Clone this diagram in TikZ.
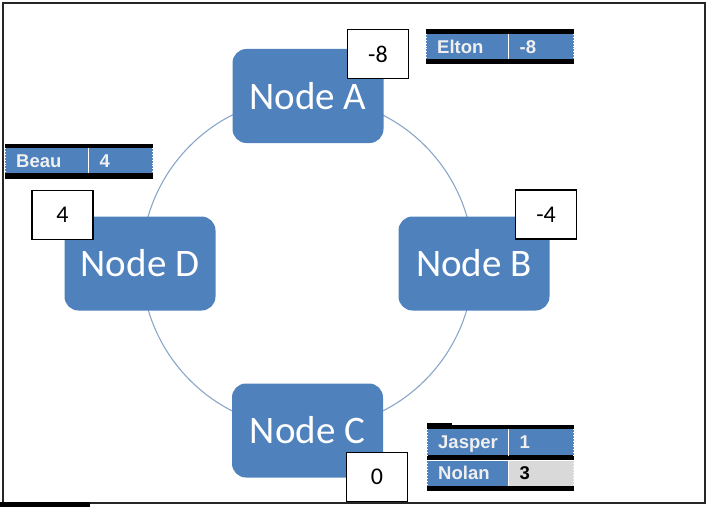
\documentclass[tikz,border=0pt]{standalone}
\usepackage{fontspec}
\setmainfont{Carlito}
\newfontfamily\tabfont{Liberation Sans}
\definecolor{nodeblue}{HTML}{4F81BD}
\definecolor{ringblue}{HTML}{8AA6C8}
\definecolor{cellgray}{HTML}{D9D9D9}
\definecolor{framegray}{HTML}{262626}
\begin{document}
\begin{tikzpicture}[x=1pt,y=-1pt,
  netnode/.style={fill=nodeblue, rounded corners=14pt, minimum width=151pt,
    minimum height=94pt, inner sep=0pt, text=white,
    font=\fontsize{39}{42}\selectfont},
  valbox/.style={draw=black, line width=1.4pt, fill=white, minimum width=61pt,
    minimum height=49pt, inner sep=0pt, font=\fontsize{24}{26}\selectfont},
  cell/.style={fill=nodeblue, text=white!94!black, inner ysep=0pt,
    inner xsep=11pt, minimum height=#1, anchor=north west, align=left,
    text height=13pt, text depth=0pt,
    font=\tabfont\bfseries\fontsize{18.5}{20}\selectfont},
  namecell/.style={cell=#1, text width=60pt},
  valuecell/.style={cell=#1, text width=43pt},
  rulebar/.style={fill=black},
  cellsep/.style={draw=white, dotted, line width=0.9pt}
]
\useasboundingbox (0,0) rectangle (709,508);

% outer frame
\draw[framegray, line width=2pt] (3,3) rectangle (705,503);
\fill[black] (0,502) rectangle (90,506.5);

% ring joining the four nodes
\coordinate (ring) at (307.5,263);
\draw[ringblue, line width=1.1pt] (ring) circle[radius=166];

% the four nodes
\node[netnode] (A) at (308,96) {Node A};
\node[netnode] (B) at (474,263.5) {Node B};
\node[netnode] (C) at (307.5,430.5) {Node C};
\node[netnode] (D) at (140,263.5) {Node D};

% values attached to the nodes
\node[valbox] (vA) at (378,54) {-8};
\node[valbox] (vB) at (546,214.5) {-4};
\node[valbox] (vC) at (377,477) {0};
\node[valbox] (vD) at (62.5,215) {4};

% table: Elton (yshift acts on the page, so positive is upwards)
\node[namecell=25pt] (eltonN) at (426,34) {Elton};
\node[valuecell=25pt] (eltonV) at (eltonN.north east) {-8};
\fill[rulebar] (eltonN.north west) rectangle ([yshift=5pt]eltonV.north east);
\fill[rulebar] (eltonN.south west) rectangle ([yshift=-5pt]eltonV.south east);
\draw[cellsep] (eltonN.north east) -- (eltonN.south east);
\draw[cellsep] (eltonN.north west) -- (eltonN.south west);
\draw[cellsep] (eltonV.north east) -- (eltonV.south east);

% table: Beau
\node[namecell=25pt, text width=61pt] (beauN) at (5,148) {Beau};
\node[valuecell=25pt, text width=42pt] (beauV) at (beauN.north east) {4};
\fill[rulebar] (beauN.north west) rectangle ([yshift=4.5pt]beauV.north east);
\fill[rulebar] (beauN.south west) rectangle ([yshift=-5.5pt]beauV.south east);
\draw[cellsep] (beauN.north east) -- (beauN.south east);
\draw[cellsep] (beauN.north west) -- (beauN.south west);
\draw[cellsep] (beauV.north east) -- (beauV.south east);

% table: Jasper / Nolan
\node[namecell=26pt, text width=59pt] (jasperN) at (427,429) {Jasper};
\node[valuecell=26pt] (jasperV) at (jasperN.north east) {1};
\node[namecell=25pt, text width=59pt] (nolanN) at ([yshift=-5pt]jasperN.south west) {Nolan};
\node[valuecell=25pt, fill=cellgray, text=black] (nolanV) at (nolanN.north east) {3};
\fill[rulebar] (jasperN.north west) rectangle ([yshift=4.5pt]jasperV.north east);
\fill[rulebar] ([yshift=4.5pt]jasperN.north west) rectangle ++(25,-2);
\fill[rulebar] (jasperN.south west) rectangle (nolanV.north east);
\fill[rulebar] (nolanN.south west) rectangle ([yshift=-5pt]nolanV.south east);
\draw[cellsep] (jasperN.north east) -- (jasperN.south east);
\draw[cellsep] (jasperN.north west) -- (jasperN.south west);
\draw[cellsep] (jasperV.north east) -- (jasperV.south east);
\draw[cellsep] (nolanN.north east) -- (nolanN.south east);
\draw[cellsep] (nolanN.north west) -- (nolanN.south west);
\draw[cellsep] (nolanV.north east) -- (nolanV.south east);
\end{tikzpicture}
\end{document}
